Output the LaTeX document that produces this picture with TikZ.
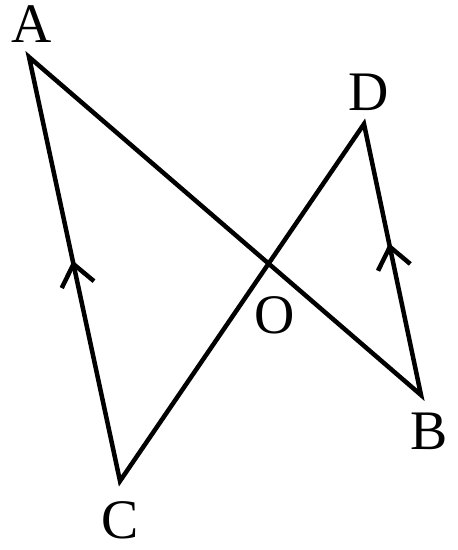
\documentclass[tikz,border=0pt]{standalone}
\usepackage{fontspec}
\setmainfont{Liberation Serif}
\usetikzlibrary{arrows.meta,decorations.markings}

\tikzset{
  side/.style={line width=4.5bp, line join=miter},
  lbl/.style={font=\fontsize{56}{60}\selectfont, inner sep=0pt},
  midarrow/.style={side, postaction={decorate},
    decoration={markings, mark=at position #1 with {\arrow{Straight Barb[length=21bp,width=33bp,line width=4.5bp,sharp]}}}}
}

\begin{document}
\begin{tikzpicture}[x=1bp,y=-1bp]
    \useasboundingbox (0,0) rectangle (458,550);

    % vertices
    \coordinate (A) at (29,57);
    \coordinate (B) at (421,395);
    \coordinate (C) at (120,481);
    \coordinate (D) at (364,124);

    % the two crossing triangles
    \draw[side] (A) -- (B) -- (D) -- (C) -- cycle;
    \path[midarrow=0.52] (C) -- (A);
    \path[midarrow=0.56] (B) -- (D);

    % labels
    \node[lbl] (labA) at (32,24) {A};
    \node[lbl] (labB) at (429,431) {B};
    \node[lbl] (labC) at (120,520) {C};
    \node[lbl] (labD) at (369,92) {D};
    \node[lbl] (labO) at (275,315) {O};
\end{tikzpicture}
\end{document}
